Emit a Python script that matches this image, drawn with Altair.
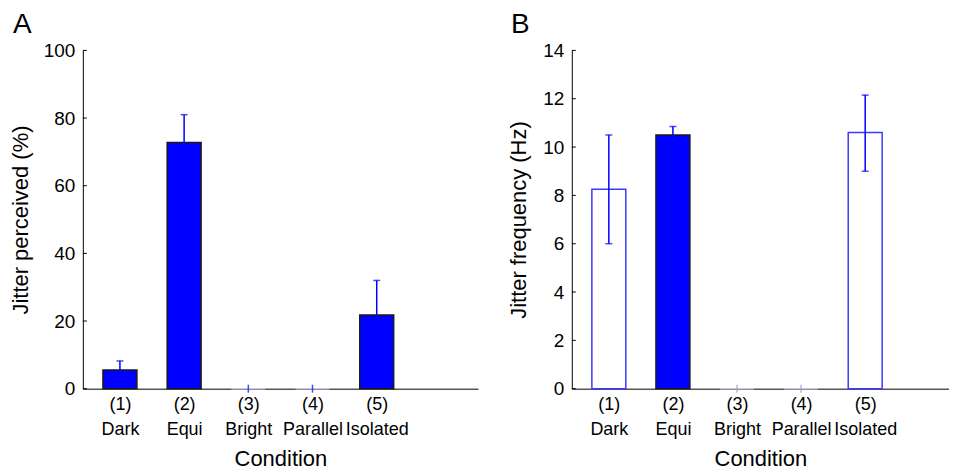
import altair as alt
import pandas as pd

# ---- data ----
positions = [1, 2, 3, 4, 5]
conditions = ["Dark", "Equi", "Bright", "Parallel", "Isolated"]

perc_mean = [5.5, 72.8, 0.0, 0.0, 21.8]
perc_hi = [8.2, 81.0, 0.0, 0.0, 32.0]
perc_kind = ["filled", "filled", "zero", "zero", "filled"]

freq_mean = [8.25, 10.5, 0.0, 0.0, 10.6]
freq_lo = [6.0, 10.15, 0.0, 0.0, 9.0]
freq_hi = [10.5, 10.85, 0.0, 0.0, 12.15]
freq_kind = ["open", "filled", "zero", "zero", "open"]

perc_ticks = [0, 20, 40, 60, 80, 100]
freq_ticks = [0, 2, 4, 6, 8, 10, 12, 14]

FONT = "Liberation Sans"
BLUE = "#0000ff"
H = 339

label_expr = "".join(
    f"datum.value == {p} ? ['({p})', '{c}'] : " for p, c in zip(positions, conditions)
) + "''"

x_axis = alt.Axis(
    values=positions, labelExpr=label_expr, ticks=False, grid=False, labelOverlap=False,
    title="Condition", labelFontSize=18, labelLineHeight=25, labelPadding=7,
    titleFontSize=22, titleFontWeight="normal", titlePadding=10,
    domainColor="black", labelColor="black", titleColor="black", labelFont=FONT, titleFont=FONT,
)

kind_fill = alt.Scale(domain=["filled", "open", "zero"], range=[BLUE, "white", "white"])
kind_stroke = alt.Scale(domain=["filled", "open", "zero"], range=["#1a1a1a", "#3a3aff", "#c8c8e4"])


def panel(letter, mean, lo, hi, kind, ticks, ymax, ytitle, zero_color, width, xmax, title_x):
    df = pd.DataFrame({"pos": positions, "cond": conditions, "mean": mean,
                       "lo": lo, "hi": hi, "kind": kind})
    err = df[df["hi"] > 0]
    zero = df[df["kind"] == "zero"]
    tdf = pd.DataFrame({"t": ticks})
    x_scale = alt.Scale(domain=[0.5, xmax], nice=False, zero=False)
    y_scale = alt.Scale(domain=[0, ymax], nice=False)
    y_axis = alt.Axis(
        values=ticks, ticks=False, grid=False, title=ytitle,
        labelFontSize=19, labelPadding=8, titleFontSize=22, titleFontWeight="normal",
        titleX=title_x, domainColor="black", labelColor="black", titleColor="black",
        labelFont=FONT, titleFont=FONT,
    )
    x = alt.X("pos:Q", scale=x_scale, axis=x_axis)
    bars = alt.Chart(df).mark_bar(size=34, strokeWidth=1.5).encode(
        x=x,
        y=alt.Y("mean:Q", scale=y_scale, axis=y_axis),
        fill=alt.Fill("kind:N", scale=kind_fill, legend=None),
        stroke=alt.Stroke("kind:N", scale=kind_stroke, legend=None),
    )
    rules = alt.Chart(err).mark_rule(color=BLUE, strokeWidth=1.5).encode(
        x="pos:Q", y="lo:Q", y2="hi:Q")
    cap_hi = alt.Chart(err).mark_tick(orient="horizontal", size=7, thickness=1.5, color=BLUE).encode(
        x="pos:Q", y="hi:Q")
    layers = [bars, rules, cap_hi]
    if any(l != m for l, m in zip(lo, mean)):
        cap_lo = alt.Chart(err).mark_tick(orient="horizontal", size=7, thickness=1.5, color=BLUE).encode(
            x="pos:Q", y="lo:Q")
        layers.append(cap_lo)
    zmark = alt.Chart(zero).mark_tick(orient="vertical", size=8, thickness=1.5, color=zero_color).encode(
        x="pos:Q", y="mean:Q")
    inticks = alt.Chart(tdf).mark_rule(color="black", strokeWidth=1).encode(
        x=alt.value(0), x2=alt.value(4), y=alt.Y("t:Q", scale=y_scale))
    layers += [zmark, inticks]
    return alt.layer(*layers).properties(
        width=width, height=H,
        title=alt.TitleParams(letter, anchor="start", fontSize=28, fontWeight="normal",
                              font=FONT, color="black", offset=2, dx=3),
    )


a = panel("A", perc_mean, perc_mean, perc_hi, perc_kind, perc_ticks, 100,
          "Jitter perceived (%)", BLUE, 396, 6.5, -50)
b = panel("B", freq_mean, freq_lo, freq_hi, freq_kind, freq_ticks, 14,
          "Jitter frequency (Hz)", "#9a9ac0", 378, 6.23, -41)

chart = alt.hconcat(a, b, spacing=30).properties(
    padding={"left": 2, "top": 3, "right": 0, "bottom": 0}
).configure(font=FONT, view=alt.ViewConfig(stroke=None))

chart.save("out.html", embed_options={"renderer": "svg", "actions": False})
